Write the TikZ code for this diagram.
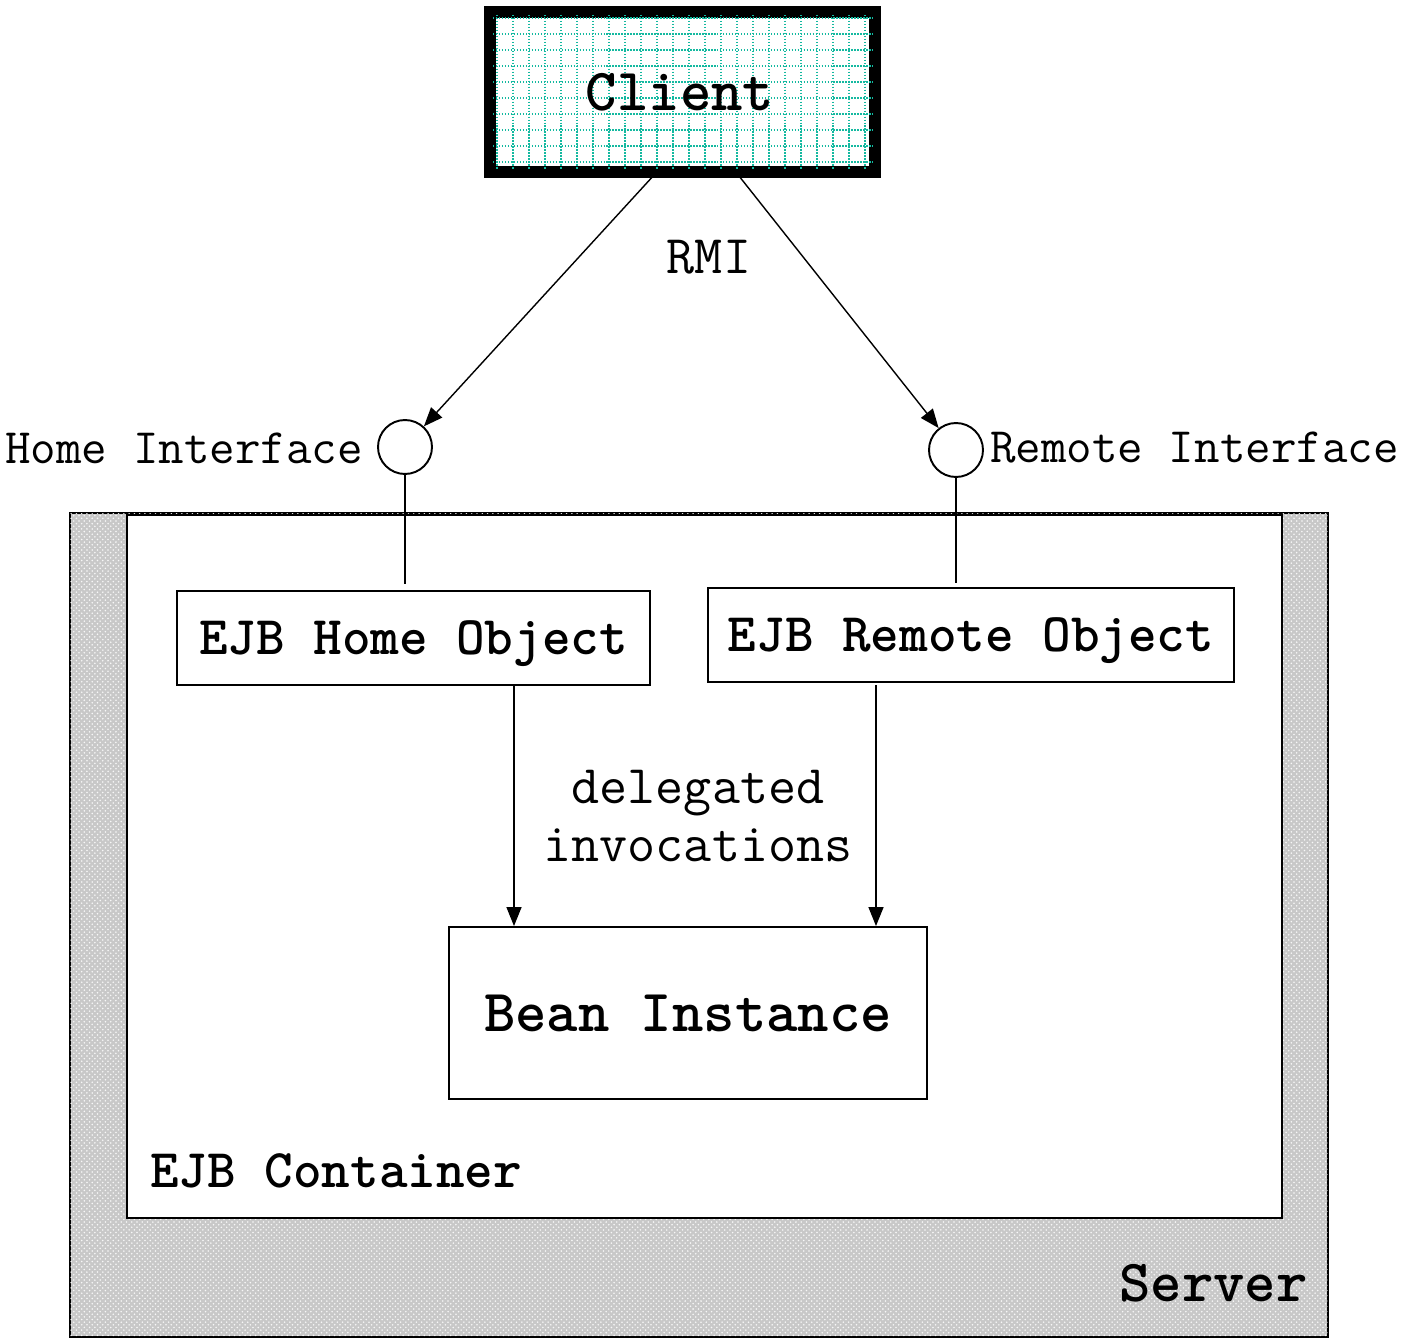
\documentclass[tikz,border=0pt]{standalone}
\usetikzlibrary{arrows.meta,patterns}
\definecolor{gridteal}{RGB}{20,185,160}
\definecolor{servergray}{RGB}{200,200,200}
\begin{document}
\begin{tikzpicture}[x=0.02cm,y=-0.02cm,
  box/.style={draw, line width=1.1pt, inner sep=0pt, fill=white, text depth=0pt},
  heavy/.style={font=\ttfamily\bfseries\fontsize{#1}{#1}\selectfont},
  plain/.style={font=\ttfamily\fontsize{#1}{#1}\selectfont},
  port/.style={circle, draw, line width=1.1pt, minimum size=1.08cm, inner sep=0pt, fill=white},
  link/.style={line width=0.8pt},
  arr/.style={line width=0.8pt, -{Triangle[length=0.38cm,width=0.3cm]}}]
\useasboundingbox (0,0) rectangle (1404,1338);

% server with its textured fill
\node[draw, line width=1.1pt, inner sep=0pt, minimum width=25.16cm, minimum height=16.48cm,
      fill=servergray, postaction={pattern=crosshatch dots, pattern color=white!85!servergray}]
      (server) at (699,925) {};
\node[heavy=34, anchor=base east, inner sep=0pt] (serverlbl) at (1308,1301) {Server};

% EJB container
\node[box, minimum width=23.1cm, minimum height=14.06cm] (container) at (704.5,866.5) {};
\node[heavy=31, anchor=base west, inner sep=0pt] (containerlbl) at (150,1187) {EJB Container};

% objects inside the container
\node[box, minimum width=9.46cm, minimum height=1.88cm, heavy=31] (home) at (413.5,638) {EJB Home Object};
\node[box, minimum width=10.52cm, minimum height=1.88cm, heavy=31] (remote) at (971,635) {EJB Remote Object};
\node[box, minimum width=9.56cm, minimum height=3.44cm, heavy=34] (bean) at (688,1013) {Bean Instance};

% client with dotted grid
\node[draw, line width=4.5pt, inner sep=0pt, minimum width=7.62cm, minimum height=3.12cm, fill=white]
      (client) at (682.5,92) {};
\begin{scope}
  \clip (client.south west) rectangle (client.north east);
  \foreach \gy in {18,34,...,170}
    \draw[gridteal, line width=0.85pt, dash pattern=on 0.85pt off 0.85pt] (490,\gy) -- (876,\gy);
  \foreach \gx in {497,513,...,876}
    \draw[gridteal, line width=0.85pt, dash pattern=on 0.85pt off 0.85pt] (\gx,12) -- (\gx,172);
\end{scope}
\draw[line width=4.5pt] (client.south west) rectangle (client.north east);
\node[heavy=34, inner sep=0pt] (clientlbl) at (680,92) {Client};

% interface ports
\node[port] (hi) at (405,447) {};
\node[port] (ri) at (956,450) {};
\node[plain=28.2, anchor=east, inner sep=0pt] (hilbl) at (363,448) {Home Interface};
\node[plain=28.2, anchor=west, inner sep=0pt] (rilbl) at (990,448) {Remote Interface};

% RMI calls from the client
\coordinate (c1) at (655,174);
\coordinate (c2) at (739,176);
\draw[arr] (c1) -- (hi);
\draw[arr] (c2) -- (ri);
\node[plain=31] (rmi) at (709,257) {RMI};

% ports attached to the objects
\draw[link, shorten >=0.12cm] (hi.south) -- (hi.south |- home.north);
\draw[link, shorten >=0.08cm] (ri.south) -- (ri.south |- remote.north);

% delegated invocations to the bean
\coordinate (d1) at (514,685);
\coordinate (d2) at (876,685);
\draw[arr] (d1) -- (d1 |- bean.north);
\draw[arr] (d2) -- (d2 |- bean.north);
\node[plain=31, align=center] (deleg) at (698,816) {delegated\\[2pt]invocations};
\end{tikzpicture}
\end{document}
